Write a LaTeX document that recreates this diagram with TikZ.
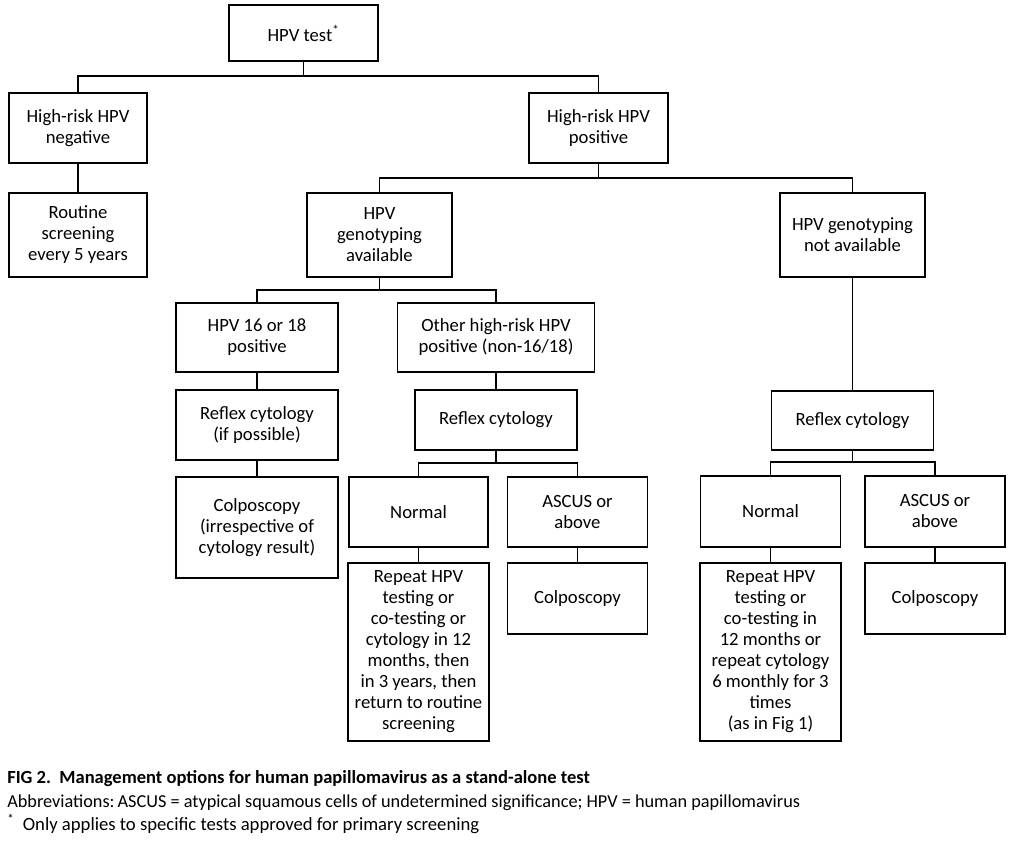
\documentclass[tikz,border=0pt]{standalone}
\usepackage{fontspec}
\setmainfont{Carlito}
\begin{document}
\begin{tikzpicture}[x=0.75pt,y=-0.75pt,
  bx/.style={draw, line width=0.9pt, align=center, inner sep=0pt,
    font=\fontsize{14pt}{15.75pt}\selectfont},
  sz/.style 2 args={minimum width=#1*0.75pt, minimum height=#2*0.75pt},
  ln/.style={line width=0.9pt},
  captxt/.style={anchor=base west, inner sep=0pt}]
\fill[white] (0,0) rectangle (1015,844);
\useasboundingbox (0,0) rectangle (1015,844);
% bus levels
\coordinate (y1) at (0,76);
\coordinate (y2) at (0,178);
\coordinate (y3) at (0,290);
\coordinate (y4) at (0,463);
\coordinate (y5) at (0,462);
% boxes
\node[bx,sz={149}{56}] (test) at (303.5,33) {HPV test\textsuperscript{*}};
\node[bx,sz={138}{70}] (neg) at (78,128) {High-risk HPV\\negative};
\node[bx,sz={138}{84}] (routine) at (78,235) {Routine\\screening\\every 5 years};
\node[bx,sz={139}{70}] (pos) at (598.5,128) {High-risk HPV\\positive};
\node[bx,sz={145}{84}] (gavail) at (379.5,235) {HPV\\genotyping\\available};
\node[bx,sz={145}{84}] (gnot) at (852.5,235) {HPV genotyping\\not available};
\node[bx,sz={162}{69}] (h1618) at (257,337.5) {HPV 16 or 18\\positive};
\node[bx,sz={197}{69}] (other) at (496,337.5) {Other high-risk HPV\\positive (non-16/18)};
\node[bx,sz={162}{70}] (rc1) at (257,425) {Reflex cytology\\(if possible)};
\node[bx,sz={162}{60}] (rc2) at (496,420) {Reflex cytology};
\node[bx,sz={162}{59}] (rc3) at (852.5,420.5) {Reflex cytology};
\node[bx,sz={162}{101}] (colpo1) at (257,527.5) {Colposcopy\\(irrespective of\\cytology result)};
\node[bx,sz={139}{70}] (norm1) at (418.5,512) {Normal};
\node[bx,sz={140}{70}] (ascus1) at (577.5,512) {ASCUS or\\above};
\node[bx,sz={140}{71}] (norm2) at (770.5,511.5) {Normal};
\node[bx,sz={140}{71}] (ascus2) at (935,511.5) {ASCUS or\\above};
\node[bx,sz={141}{178}] (rep1) at (418.5,652) {Repeat HPV\\testing or\\co-testing or\\cytology in 12\\months, then\\in 3 years, then\\return to routine\\screening};
\node[bx,sz={140}{71}] (col2) at (577.5,598.5) {Colposcopy};
\node[bx,sz={141}{178}] (rep2) at (770.5,652) {Repeat HPV\\testing or\\co-testing in\\12 months or\\repeat cytology\\6 monthly for 3\\times\\(as in Fig 1)};
\node[bx,sz={140}{71}] (col3) at (935,598.5) {Colposcopy};
% connectors
\draw[ln] (test.south) -- (test.south |- y1);
\draw[ln] (neg.north) -- (neg.north |- y1) -| (pos.north);
\draw[ln] (neg.south) -- (routine.north);
\draw[ln] (pos.south) -- (pos.south |- y2);
\draw[ln] (gavail.north) -- (gavail.north |- y2) -| (gnot.north);
\draw[ln] (gavail.south) -- (gavail.south |- y3);
\draw[ln] (h1618.north) -- (h1618.north |- y3) -| (other.north);
\draw[ln] (h1618.south) -- (rc1.north);
\draw[ln] (rc1.south) -- (colpo1.north);
\draw[ln] (other.south) -- (rc2.north);
\draw[ln] (rc2.south) -- (rc2.south |- y4);
\draw[ln] (norm1.north) -- (norm1.north |- y4) -| (ascus1.north);
\draw[ln] (norm1.south) -- (rep1.north);
\draw[ln] (ascus1.south) -- (col2.north);
\draw[ln] (gnot.south) -- (rc3.north);
\draw[ln] (rc3.south) -- (rc3.south |- y5);
\draw[ln] (norm2.north) -- (norm2.north |- y5) -| (ascus2.north);
\draw[ln] (norm2.south) -- (rep2.north);
\draw[ln] (ascus2.south) -- (col3.north);
% caption
\node[captxt, font=\bfseries\fontsize{13.9pt}{15pt}\selectfont] (cap1) at (7,783)
  {FIG 2.\ \ Management options for human papillomavirus as a stand-alone test};
\node[captxt, font=\fontsize{13.7pt}{15pt}\selectfont] (cap2) at (7,807)
  {Abbreviations:\,ASCUS = atypical squamous cells of undetermined significance; HPV = human papillomavirus};
\node[captxt, font=\fontsize{14pt}{15pt}\selectfont] (cap3) at (7,830)
  {\textsuperscript{*}\ \ Only applies to specific tests approved for primary screening};
\end{tikzpicture}
\end{document}
